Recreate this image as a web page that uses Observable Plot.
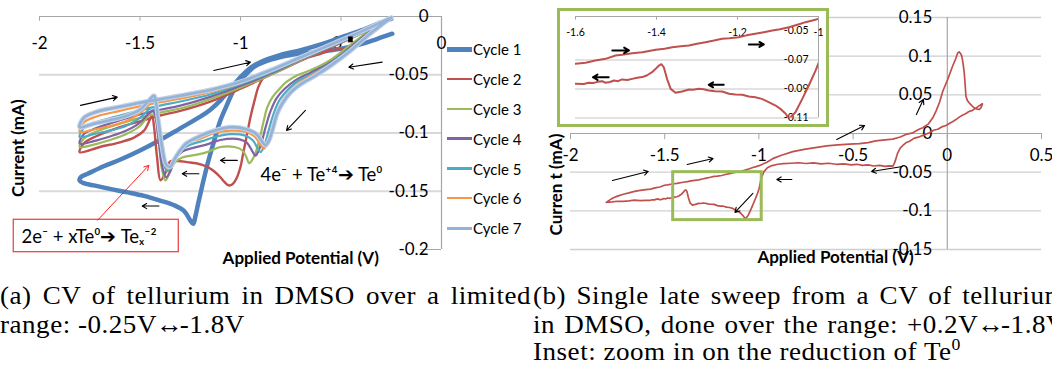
<!DOCTYPE html>
<html>
<head>
<meta charset="utf-8">
<script src="https://cdn.jsdelivr.net/npm/d3@7"></script>
<script src="https://cdn.jsdelivr.net/npm/@observablehq/plot@0.6"></script>
<style>
  html, body { margin: 0; padding: 0; background: #fff; }
  #fig { position: relative; width: 1052px; height: 370px; overflow: hidden; font-family: Lato, "Open Sans", sans-serif; }
  #fig > svg, #fig > div { position: absolute; }
  .cap { font-family: "Liberation Serif", "DejaVu Serif", serif; font-size: 26px; line-height: 26px; color: #000;
         letter-spacing: 0.5px; transform: scaleX(1.04); transform-origin: 0 0; white-space: normal; }
  .cap.just { text-align: justify; text-align-last: justify; }
  .cap .arr { letter-spacing: -2px; margin: 0 -1px; }
  .leg { font-size: 15px; color: #000; display: flex; align-items: center; height: 20px; }
  .leg span.sw { display: inline-block; width: 25px; margin-right: 1px; }
</style>
</head>
<body>
<div id="fig"></div>
<script>
// ---------- Panel (a): seven CV cycles, potential (V) vs current (mA) ----------
const cycleNames = ["Cycle 1", "Cycle 2", "Cycle 3", "Cycle 4", "Cycle 5", "Cycle 6", "Cycle 7"];

const cycle1 = [
  [-0.245,-0.0148],[-0.3,-0.018],[-0.35,-0.021],[-0.45,-0.026],[-0.55,-0.029],[-0.65,-0.031],[-0.75,-0.033],
  [-0.85,-0.037],[-0.93,-0.043],[-0.98,-0.051],[-1.03,-0.062],[-1.07,-0.077],[-1.1,-0.089],[-1.13,-0.106],
  [-1.16,-0.124],[-1.19,-0.145],[-1.21,-0.16],[-1.225,-0.172],[-1.235,-0.178],[-1.25,-0.175],[-1.28,-0.167],
  [-1.33,-0.162],[-1.4,-0.158],[-1.48,-0.154],[-1.56,-0.151],[-1.65,-0.148],[-1.73,-0.145],[-1.78,-0.143],[-1.8,-0.141],
  [-1.795,-0.138],[-1.76,-0.135],[-1.7,-0.13],[-1.6,-0.123],[-1.5,-0.115],[-1.4,-0.106],[-1.3,-0.096],[-1.2,-0.086],
  [-1.15,-0.08],[-1.1,-0.072],[-1.05,-0.062],[-1.0,-0.052],[-0.95,-0.044],[-0.9,-0.039],[-0.8,-0.033],[-0.7,-0.029],
  [-0.6,-0.024],[-0.5,-0.018],[-0.4,-0.012],[-0.3,-0.005],[-0.25,-0.002]
];
const cycle2 = [
  [-0.25,-0.001],[-0.35,-0.015],[-0.45,-0.026],[-0.55,-0.029],[-0.62,-0.033],[-0.7,-0.037],[-0.785,-0.042],[-0.85,-0.047],
  [-0.884,-0.052],[-0.91,-0.06],[-0.93,-0.072],[-0.95,-0.086],[-0.967,-0.1006],[-0.985,-0.116],[-1.0,-0.129],[-1.02,-0.139],
  [-1.04,-0.144],[-1.058,-0.145],[-1.08,-0.142],[-1.1,-0.138],[-1.13,-0.133],[-1.166,-0.129],[-1.22,-0.126],[-1.266,-0.125],
  [-1.31,-0.124],[-1.35,-0.1245],[-1.373,-0.134],[-1.398,-0.1407],[-1.415,-0.121],[-1.43,-0.095],[-1.44,-0.085],[-1.46,-0.092],
  [-1.48,-0.098],[-1.53,-0.104],[-1.6,-0.108],[-1.7,-0.112],[-1.8,-0.1165],
  [-1.78,-0.109],[-1.72,-0.103],[-1.6,-0.095],[-1.5,-0.09],[-1.4,-0.085],[-1.3,-0.081],[-1.15,-0.073],[-1.0,-0.062],
  [-0.85,-0.05],[-0.7,-0.038],[-0.55,-0.0265],[-0.4,-0.0145],[-0.25,-0.001]
];
const cycle3 = [
  [-0.25,-0.001],[-0.35,-0.011],[-0.45,-0.024],[-0.55,-0.037],[-0.65,-0.046],[-0.72,-0.0506],[-0.77,-0.056],[-0.8,-0.061],
  [-0.84,-0.069],[-0.867,-0.078],[-0.885,-0.09],[-0.905,-0.105],[-0.925,-0.117],[-0.945,-0.124],[-0.957,-0.126],[-0.97,-0.121],
  [-0.99,-0.115],[-1.03,-0.112],[-1.1,-0.112],[-1.166,-0.1164],[-1.23,-0.119],[-1.29,-0.121],[-1.33,-0.126],[-1.355,-0.135],
  [-1.373,-0.1407],[-1.39,-0.132],[-1.405,-0.11],[-1.42,-0.088],[-1.435,-0.081],[-1.45,-0.083],[-1.5,-0.094],[-1.57,-0.101],
  [-1.65,-0.106],[-1.73,-0.11],[-1.8,-0.112],
  [-1.78,-0.105],[-1.72,-0.099],[-1.6,-0.092],[-1.5,-0.087],[-1.4,-0.0825],[-1.3,-0.079],[-1.15,-0.071],[-1.0,-0.061],
  [-0.85,-0.05],[-0.7,-0.0375],[-0.55,-0.026],[-0.4,-0.0145],[-0.25,-0.001]
];
const cycle4 = [
  [-0.25,-0.001],[-0.35,-0.012],[-0.45,-0.026],[-0.55,-0.039],[-0.65,-0.048],[-0.72,-0.054],[-0.78,-0.062],[-0.82,-0.07],
  [-0.85,-0.081],[-0.875,-0.095],[-0.895,-0.108],[-0.912,-0.116],[-0.925,-0.1195],[-0.94,-0.116],[-0.97,-0.108],[-1.02,-0.105],
  [-1.1,-0.106],[-1.17,-0.11],[-1.24,-0.113],[-1.29,-0.116],[-1.33,-0.124],[-1.35,-0.133],[-1.37,-0.138],[-1.39,-0.128],
  [-1.41,-0.102],[-1.425,-0.084],[-1.435,-0.0806],[-1.45,-0.082],[-1.5,-0.091],[-1.57,-0.098],[-1.65,-0.103],[-1.73,-0.107],[-1.8,-0.109],
  [-1.78,-0.101],[-1.72,-0.096],[-1.6,-0.089],[-1.5,-0.084],[-1.4,-0.08],[-1.3,-0.0765],[-1.15,-0.069],[-1.0,-0.0595],
  [-0.85,-0.049],[-0.7,-0.037],[-0.55,-0.026],[-0.4,-0.014],[-0.25,-0.001]
];
const cycle5 = [
  [-0.25,-0.001],[-0.35,-0.013],[-0.45,-0.027],[-0.55,-0.04],[-0.65,-0.05],[-0.72,-0.056],[-0.77,-0.064],[-0.81,-0.073],
  [-0.84,-0.086],[-0.86,-0.098],[-0.88,-0.11],[-0.9,-0.1164],[-0.915,-0.113],[-0.94,-0.106],[-0.98,-0.102],[-1.05,-0.101],
  [-1.12,-0.103],[-1.19,-0.107],[-1.25,-0.11],[-1.3,-0.115],[-1.33,-0.123],[-1.35,-0.13],[-1.365,-0.133],[-1.385,-0.124],
  [-1.405,-0.1],[-1.42,-0.082],[-1.432,-0.0778],[-1.45,-0.079],[-1.5,-0.087],[-1.57,-0.094],[-1.65,-0.098],[-1.73,-0.101],[-1.8,-0.1035],
  [-1.78,-0.096],[-1.72,-0.091],[-1.6,-0.085],[-1.5,-0.0805],[-1.4,-0.0765],[-1.3,-0.073],[-1.15,-0.067],[-1.0,-0.058],
  [-0.85,-0.048],[-0.7,-0.0365],[-0.55,-0.0255],[-0.4,-0.014],[-0.25,-0.001]
];
const cycle6 = [
  [-0.25,-0.001],[-0.35,-0.0135],[-0.45,-0.028],[-0.55,-0.041],[-0.65,-0.051],[-0.71,-0.057],[-0.76,-0.065],[-0.8,-0.075],
  [-0.83,-0.088],[-0.85,-0.099],[-0.868,-0.109],[-0.884,-0.1135],[-0.9,-0.11],[-0.93,-0.103],[-0.97,-0.099],[-1.05,-0.098],
  [-1.13,-0.1],[-1.2,-0.105],[-1.26,-0.108],[-1.3,-0.114],[-1.33,-0.122],[-1.36,-0.131],[-1.38,-0.124],[-1.4,-0.1],
  [-1.415,-0.08],[-1.43,-0.072],[-1.45,-0.075],[-1.5,-0.083],[-1.57,-0.09],[-1.65,-0.094],[-1.73,-0.097],[-1.8,-0.0992],
  [-1.78,-0.091],[-1.72,-0.086],[-1.6,-0.081],[-1.5,-0.077],[-1.4,-0.0735],[-1.3,-0.0705],[-1.15,-0.065],[-1.0,-0.057],
  [-0.85,-0.047],[-0.7,-0.036],[-0.55,-0.025],[-0.4,-0.0135],[-0.25,-0.001]
];
const cycle7 = [
  [-0.25,-0.001],[-0.35,-0.014],[-0.45,-0.029],[-0.55,-0.042],[-0.62,-0.05],[-0.7,-0.058],[-0.75,-0.065],[-0.79,-0.074],
  [-0.818,-0.0835],[-0.842,-0.098],[-0.86,-0.107],[-0.876,-0.1106],[-0.89,-0.108],[-0.92,-0.101],[-0.967,-0.097],[-1.05,-0.095],
  [-1.13,-0.098],[-1.2,-0.1025],[-1.27,-0.109],[-1.3,-0.115],[-1.33,-0.123],[-1.35,-0.129],[-1.37,-0.127],[-1.39,-0.112],
  [-1.41,-0.088],[-1.43,-0.068],[-1.45,-0.071],[-1.5,-0.08],[-1.58,-0.086],[-1.65,-0.089],[-1.73,-0.092],[-1.8,-0.095],
  [-1.78,-0.087],[-1.72,-0.082],[-1.6,-0.0775],[-1.5,-0.074],[-1.4,-0.071],[-1.3,-0.068],[-1.15,-0.063],[-1.0,-0.056],
  [-0.85,-0.046],[-0.7,-0.035],[-0.55,-0.024],[-0.4,-0.013],[-0.25,-0.001]
];
const cyclesA = [cycle1, cycle2, cycle3, cycle4, cycle5, cycle6, cycle7];

const xTicksA = [-2, -1.5, -1, -0.5, 0];
const yTicksA = [0, -0.05, -0.1, -0.15, -0.2];
const gridA = [-0.05, -0.1, -0.15];

// direction arrows along the sweeps (V, mA)
const arrowsA = [
  {x1: -1.796, y1: -0.0763, x2: -1.613, y2: -0.0692},
  {x1: -1.133, y1: -0.0463, x2: -0.95, y2: -0.0392},
  {x1: -0.295, y1: -0.0392, x2: -0.461, y2: -0.0435},
  {x1: -0.677, y1: -0.0806, x2: -0.771, y2: -0.0978},
  {x1: -1.016, y1: -0.1235, x2: -1.1, y2: -0.1235},
  {x1: -1.207, y1: -0.135, x2: -1.29, y2: -0.135},
  {x1: -1.406, y1: -0.1627, x2: -1.489, y2: -0.1627}
];
const pointerA = [{x1: -1.711, y1: -0.1749, x2: -1.456, y2: -0.1278}];
const markerA = [{v: -0.453, i: -0.0191}];
const labelBoxA = [{x1: -2.128, x2: -1.307, y1: -0.1745, y2: -0.2023}];
const notesA = [
  {v: -0.9, i: -0.1364, text: "4e\u207B + Te\u207A\u2074\u2794 Te\u2070"},
  {v: -2.09, i: -0.1895, text: "2e\u207B + xTe\u2070\u2794 Te\u2093\u207B\u00B2"}
];

// ---------- Panel (b): single late sweep, +0.2 V to -1.8 V ----------
const sweepB = [
  [0.186,0.0385],[0.17,0.036],[0.15,0.0325],[0.13,0.0295],[0.115,0.0285],[0.099,0.0258],[0.08,0.0235],[0.065,0.0215],
  [0.046,0.018],[0.03,0.0155],[0.015,0.0135],[-0.007,0.0103],[-0.03,0.0085],[-0.05,0.0055],[-0.07,0.0045],[-0.095,0.0009],
  [-0.12,-0.0015],[-0.148,-0.0043],[-0.175,-0.006],[-0.2,-0.01],[-0.22,-0.012],[-0.236,-0.0155],[-0.25,-0.019],[-0.263,-0.025],
  [-0.272,-0.032],[-0.28,-0.038],[-0.289,-0.0422],
  [-0.31,-0.0418],[-0.33,-0.0425],[-0.36,-0.0413],[-0.39,-0.042],[-0.42,-0.0405],[-0.45,-0.0412],[-0.48,-0.0398],[-0.51,-0.0405],
  [-0.55,-0.0392],[-0.59,-0.0398],[-0.63,-0.0385],[-0.67,-0.0392],[-0.71,-0.038],[-0.75,-0.0388],[-0.79,-0.0378],[-0.83,-0.0385],
  [-0.87,-0.039],[-0.9,-0.0398],[-0.93,-0.0415],[-0.955,-0.0442],[-0.975,-0.05],[-0.988,-0.0585],[-0.999,-0.0715],
  [-1.007,-0.0772],[-1.024,-0.0876],[-1.04,-0.0968],[-1.057,-0.106],[-1.073,-0.1106],[-1.081,-0.1071],[-1.095,-0.1035],
  [-1.106,-0.1014],[-1.123,-0.0991],[-1.14,-0.0968],[-1.156,-0.0957],[-1.172,-0.0952],[-1.188,-0.094],[-1.205,-0.0938],
  [-1.221,-0.0933],[-1.238,-0.0917],[-1.255,-0.0915],[-1.271,-0.091],[-1.284,-0.0902],[-1.296,-0.0899],[-1.31,-0.0905],
  [-1.32,-0.0903],[-1.337,-0.0917],[-1.353,-0.0926],[-1.365,-0.0899],[-1.374,-0.083],[-1.382,-0.075],[-1.388,-0.0729],
  [-1.394,-0.0738],[-1.402,-0.0761],[-1.411,-0.0784],[-1.423,-0.0805],[-1.435,-0.0818],[-1.448,-0.0822],[-1.46,-0.083],
  [-1.472,-0.0838],[-1.485,-0.0834],[-1.495,-0.0846],[-1.505,-0.0841],[-1.515,-0.0852],[-1.526,-0.0857],[-1.534,-0.0846],
  [-1.542,-0.0848],[-1.555,-0.0858],[-1.567,-0.0857],[-1.58,-0.0866],[-1.6,-0.0864],
  [-1.63,-0.0868],[-1.66,-0.0862],[-1.69,-0.0872],[-1.72,-0.0878],[-1.75,-0.0876],[-1.78,-0.0885],[-1.81,-0.0892],
  [-1.795,-0.0865],[-1.775,-0.0835],[-1.75,-0.081],[-1.72,-0.0785],[-1.69,-0.0768],[-1.66,-0.0748],[-1.63,-0.0735],
  [-1.6,-0.0726],[-1.575,-0.0719],[-1.551,-0.0703],[-1.526,-0.0692],[-1.501,-0.0669],[-1.485,-0.0664],[-1.46,-0.0653],
  [-1.435,-0.0646],[-1.402,-0.063],[-1.38,-0.0622],[-1.361,-0.0612],[-1.34,-0.0605],[-1.32,-0.06],[-1.3,-0.0588],
  [-1.279,-0.0577],[-1.258,-0.0566],[-1.238,-0.0554],[-1.22,-0.055],[-1.197,-0.0543],[-1.178,-0.053],[-1.156,-0.0519],
  [-1.135,-0.0508],[-1.114,-0.0497],[-1.095,-0.0488],[-1.073,-0.0474],[-1.05,-0.0455],[-1.032,-0.0439],[-1.015,-0.0428],
  [-0.999,-0.0416],
  [-0.96,-0.0375],[-0.92,-0.0318],[-0.88,-0.0282],[-0.82,-0.0235],[-0.76,-0.0205],[-0.7,-0.0182],[-0.64,-0.016],
  [-0.58,-0.0148],[-0.52,-0.0138],[-0.466,-0.013],[-0.42,-0.0118],[-0.38,-0.0095],[-0.33,-0.0082],[-0.29,-0.0072],
  [-0.25,-0.0045],[-0.22,-0.0012],[-0.183,0.0009],[-0.15,0.0055],[-0.13,0.0074],[-0.1,0.0125],[-0.077,0.0203],
  [-0.06,0.029],[-0.042,0.0397],[-0.024,0.0546],[0.002,0.0698],[0.028,0.087],[0.045,0.097],[0.055,0.1042],[0.063,0.1055],
  [0.07,0.1035],[0.077,0.1],[0.084,0.09],[0.09,0.0785],[0.095,0.062],[0.099,0.0482],[0.107,0.0425],[0.116,0.0397],
  [0.13,0.036],[0.143,0.0332],[0.155,0.0318],[0.169,0.031],[0.178,0.033],[0.186,0.0375]
];
const xTicksB = [-2, -1.5, -1, -0.5, 0, 0.5];
const yTicksB = [0.15, 0.1, 0.05, 0, -0.05, -0.1, -0.15];
const gridB = [0.15, 0.1, 0.05, -0.05, -0.1, -0.15];
const zoomBoxB = [{x1: -1.455, x2: -0.985, y1: -0.05, y2: -0.112}];
const arrowsB = [
  {x1: -1.778, y1: -0.0607, x2: -1.587, y2: -0.0491},
  {x1: -1.381, y1: -0.04, x2: -1.243, y2: -0.0323},
  {x1: -0.825, y1: -0.0594, x2: -0.905, y2: -0.0594},
  {x1: -0.238, y1: -0.0426, x2: -0.402, y2: -0.0491},
  {x1: -0.587, y1: -0.0078, x2: -0.439, y2: 0.0103},
  {x1: -0.164, y1: 0.0245, x2: -0.127, y2: 0.0439},
  {x1: -1.032, y1: -0.0775, x2: -1.127, y2: -0.102}
];

// inset: zoom on the Te0 reduction
const xTicksInset = [-1.6, -1.4, -1.2, -1];
const yTicksInset = [-0.05, -0.07, -0.09, -0.11];
const gridInset = [-0.07, -0.09, -0.11];
const arrowsInset = [
  {x1: -1.509, y1: -0.0634, x2: -1.468, y2: -0.0634},
  {x1: -1.172, y1: -0.0593, x2: -1.135, y2: -0.0593},
  {x1: -1.518, y1: -0.0819, x2: -1.557, y2: -0.0819},
  {x1: -1.234, y1: -0.0871, x2: -1.271, y2: -0.0871}
];

// ---------- styling ----------
const FONT = "Lato, 'Open Sans', sans-serif";
const cycleColors = ["#4F81BD", "#C0504D", "#9BBB59", "#8064A2", "#4BACC6", "#F79646", "#95B3D7"];
const cycleWidths = [4.5, 2.4, 2.2, 2.2, 2.2, 2.2, 2.6];
const AXIS = "#A6A6A6", GRID = "#D9D9D9", RED = "#C0504D", GREEN = "#9BBB59";
const TICK_FS = 17, TITLE_FS = 17;
const fig = document.getElementById("fig");
const V = d => d[0], I = d => d[1];
const fmt = d => String(d);

function place(node, left, top) {
  node.style.left = left + "px";
  node.style.top = top + "px";
  fig.appendChild(node);
  return node;
}

// ---- panel (a)
const linesA = [];
cyclesA.forEach((pts, k) => {
  if (k === 6) {
    linesA.push(Plot.line(pts, {x: V, y: I, stroke: "#C3D2E8", strokeWidth: 4.8, curve: "catmull-rom", strokeLinejoin: "round", strokeLinecap: "round"}));
  }
  linesA.push(Plot.line(pts, {x: V, y: I, stroke: cycleColors[k], strokeWidth: cycleWidths[k], curve: "catmull-rom", strokeLinejoin: "round", strokeLinecap: "round"}));
});

const chartA = Plot.plot({
  width: 540, height: 270,
  marginLeft: 39, marginRight: 99, marginTop: 16, marginBottom: 21,
  x: {domain: [-2, 0], axis: null},
  y: {domain: [-0.2, 0], axis: null},
  style: {fontFamily: FONT, color: "#000", background: "transparent", overflow: "visible"},
  marks: [
    Plot.ruleY(gridA, {x1: -2, x2: 0, stroke: GRID, strokeWidth: 2}),
    Plot.ruleY([0], {x1: -2, x2: 0, stroke: AXIS, strokeWidth: 1.2}),
    Plot.ruleX([0], {y1: -0.2, y2: 0, stroke: AXIS, strokeWidth: 1.2}),
    Plot.ruleX(xTicksA, {y1: 0, y2: -0.004, stroke: AXIS}),
    Plot.ruleY([-0.2], {x1: -0.105, x2: 0, stroke: AXIS}),
    Plot.text(xTicksA, {x: d => d, y: 0, text: fmt, dy: 27, fontSize: TICK_FS}),
    Plot.text(yTicksA, {x: 0, y: d => d, text: fmt, textAnchor: "end", dx: -13, fontSize: TICK_FS}),
    ...linesA,
    Plot.dot(markerA, {x: "v", y: "i", symbol: "square", r: 2.6, fill: "#000"}),
    Plot.arrow(arrowsA, {x1: "x1", y1: "y1", x2: "x2", y2: "y2", stroke: "#000", strokeWidth: 1.1, headLength: 7}),
    Plot.rect(labelBoxA, {x1: "x1", x2: "x2", y1: "y1", y2: "y2", fill: "#fff", stroke: "#E84A4A", strokeWidth: 1.3}),
    Plot.arrow(pointerA, {x1: "x1", y1: "y1", x2: "x2", y2: "y2", stroke: "#FF2020", strokeWidth: 1, headLength: 8}),
    Plot.text(notesA, {x: "v", y: "i", text: "text", textAnchor: "start", fontSize: 18.5}),
    Plot.text(["Current (mA)"], {x: -2, y: -0.113, dx: -21, rotate: -90, fontSize: TITLE_FS, fontWeight: "bold"}),
    Plot.text(["Applied Potential (V)"], {x: -0.7, y: -0.2075, fontSize: TITLE_FS, fontWeight: "bold"})
  ]
});
place(chartA, 0, 0);

// legend for panel (a)
cycleNames.forEach((name, k) => {
  const row = document.createElement("div");
  row.className = "leg";
  const sw = document.createElement("span");
  sw.className = "sw";
  sw.style.height = (k === 0 ? 4.5 : k === 6 ? 3 : 2.4) + "px";
  sw.style.background = cycleColors[k];
  row.appendChild(sw);
  row.appendChild(document.createTextNode(name));
  place(row, 447, 39.3 + 29.8 * k);
});

// ---- panel (b)
const chartB = Plot.plot({
  width: 512, height: 270,
  marginLeft: 30, marginRight: 11, marginTop: 17, marginBottom: 21,
  x: {domain: [-2, 0.5], axis: null},
  y: {domain: [-0.15, 0.15], axis: null},
  style: {fontFamily: FONT, color: "#000", background: "transparent", overflow: "visible"},
  marks: [
    Plot.ruleY(gridB, {x1: -2, x2: 0.5, stroke: "#CFCFCF", strokeWidth: 1.3}),
    Plot.ruleY([0], {x1: -2, x2: 0.5, stroke: AXIS, strokeWidth: 1.2}),
    Plot.ruleX([0], {y1: -0.15, y2: 0.15, stroke: AXIS, strokeWidth: 1.2}),
    Plot.ruleX(xTicksB, {y1: 0, y2: -0.008, stroke: AXIS}),
    Plot.text(xTicksB, {x: d => d, y: 0, text: fmt, dy: 22, fontSize: TICK_FS}),
    Plot.text(yTicksB, {x: 0, y: d => d, text: fmt, textAnchor: "end", dx: -15, fontSize: TICK_FS}),
    Plot.line(sweepB, {x: V, y: I, stroke: RED, strokeWidth: 1.7, strokeLinejoin: "round"}),
    Plot.rect(zoomBoxB, {x1: "x1", x2: "x2", y1: "y1", y2: "y2", fill: "none", stroke: GREEN, strokeWidth: 3}),
    Plot.arrow(arrowsB, {x1: "x1", y1: "y1", x2: "x2", y2: "y2", stroke: "#000", strokeWidth: 1.1, headLength: 7}),
    Plot.text(["Curren t (mA)"], {x: -2, y: -0.066, dx: -14, rotate: -90, fontSize: TITLE_FS, fontWeight: "bold"}),
    Plot.text(["Applied Potential (V)"], {x: -0.593, y: -0.16, fontSize: TITLE_FS, fontWeight: "bold"})
  ]
});
place(chartB, 540, 0);

// inset frame and inset chart
const frame = document.createElement("div");
Object.assign(frame.style, {width: "272px", height: "119px", border: "3px solid " + GREEN, boxSizing: "border-box", background: "#fff"});
place(frame, 557, 8);

const inset = Plot.plot({
  width: 265, height: 113,
  marginLeft: 15, marginRight: 7, marginTop: 5, marginBottom: 6.5,
  x: {domain: [-1.6, -1], axis: null},
  y: {domain: [-0.11, -0.04], axis: null},
  style: {fontFamily: FONT, color: "#000", background: "transparent", overflow: "visible"},
  marks: [
    Plot.ruleY(gridInset, {x1: -1.6, x2: -1, stroke: GRID, strokeWidth: 1.5}),
    Plot.ruleY([-0.04], {x1: -1.6, x2: -1, stroke: AXIS}),
    Plot.ruleX([-1], {y1: -0.11, y2: -0.04, stroke: AXIS}),
    Plot.ruleX(xTicksInset, {y1: -0.04, y2: -0.0425, stroke: AXIS}),
    Plot.text(xTicksInset, {x: d => d, y: -0.04, text: fmt, dy: 16, fontSize: 10.5}),
    Plot.text(yTicksInset, {x: -1, y: d => d, text: fmt, textAnchor: "end", dx: -10, fontSize: 10.5}),
    Plot.line(sweepB, {x: V, y: I, stroke: RED, strokeWidth: 2, clip: true, strokeLinejoin: "round"}),
    Plot.arrow(arrowsInset, {x1: "x1", y1: "y1", x2: "x2", y2: "y2", stroke: "#000", strokeWidth: 2, headLength: 7})
  ]
});
place(inset, 560, 11);

// ---- captions
const ARROW = "<span class=\"arr\">\u2194</span>";
const captions = [
  {html: "(a) CV of tellurium in DMSO over a limited", left: 0, top: 283, width: 531, just: true},
  {html: "range: -0.25V" + ARROW + "-1.8V", left: 0, top: 312},
  {html: "(b) Single late sweep from a CV of tellurium", left: 533, top: 283, width: 533, just: true},
  {html: "in DMSO, done over the range: +0.2V" + ARROW + "-1.8V", left: 533, top: 312, width: 533, just: true},
  {html: "Inset: zoom in on the reduction of Te<span style=\"font-size:17px;position:relative;top:-10px\">0</span>", left: 533, top: 339}
];
captions.forEach(c => {
  const d = document.createElement("div");
  d.className = "cap" + (c.just ? " just" : "");
  d.innerHTML = c.html;
  if (c.width) d.style.width = (c.width / 1.04) + "px";
  else d.style.whiteSpace = "nowrap";
  place(d, c.left, c.top);
});
</script>
</body>
</html>
